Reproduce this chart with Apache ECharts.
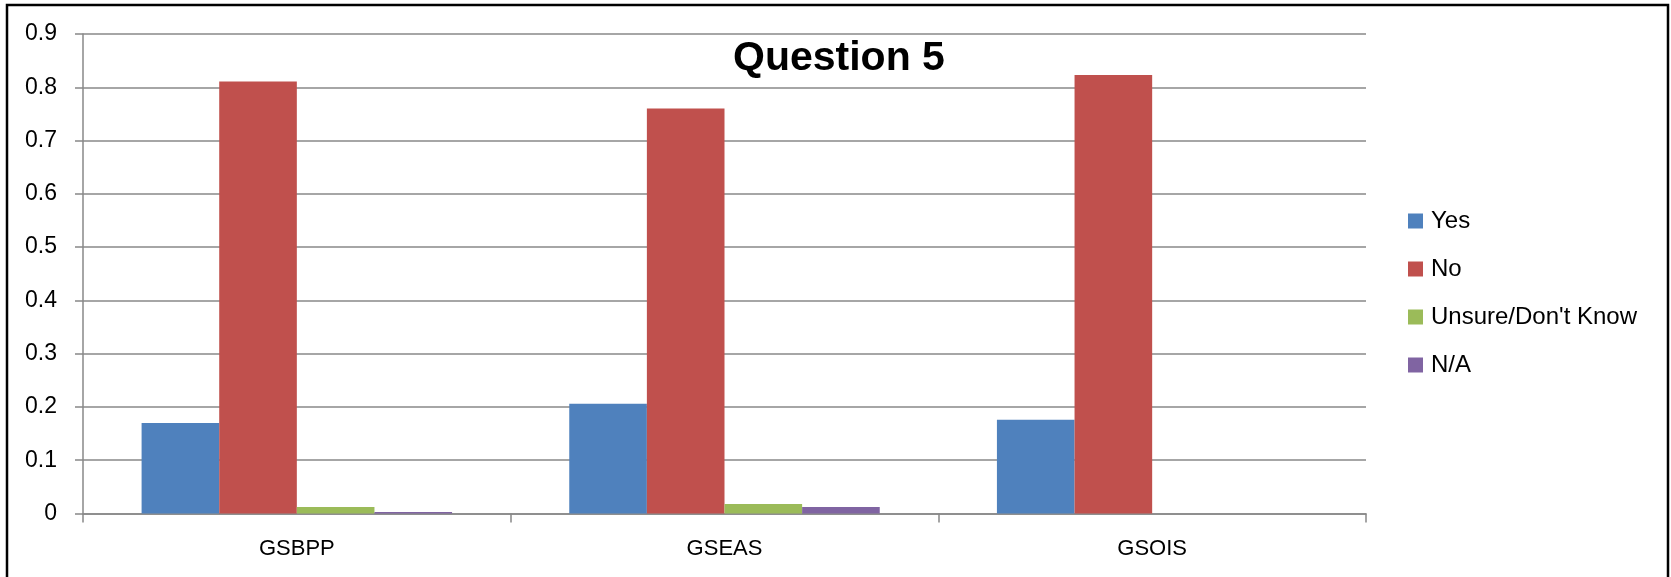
<!DOCTYPE html>
<html>
<head>
<meta charset="utf-8">
<script src="https://cdn.jsdelivr.net/npm/echarts@6/dist/echarts.min.js"></script>
<style>
html,body{margin:0;padding:0;background:#fff;}
#chart{width:1671px;height:577px;}
</style>
</head>
<body>
<div id="chart"></div>
<script>
const categories = ['GSBPP', 'GSEAS', 'GSOIS'];
const seriesNames = ['Yes', 'No', "Unsure/Don't Know", 'N/A'];
const yesValues = [0.17, 0.206, 0.176];
const noValues = [0.811, 0.76, 0.823];
const unsureValues = [0.012, 0.018, 0];
const naValues = [0.003, 0.012, 0];
const yTicks = [0, 0.1, 0.2, 0.3, 0.4, 0.5, 0.6, 0.7, 0.8, 0.9];

const colors = ['#4F81BD', '#C0504D', '#9BBB59', '#8064A2'];
const font = '"Liberation Sans", Arial, sans-serif';
const seriesData = [yesValues, noValues, unsureValues, naValues];

const chart = echarts.init(document.getElementById('chart'), null, {renderer: 'canvas'});
chart.setOption({
  animation: false,
  backgroundColor: '#fff',
  color: colors,
  title: {
    text: 'Question 5',
    left: 733,
    top: 38,
    padding: 0,
    textStyle: {fontFamily: font, fontSize: 41, fontWeight: 'bold', color: '#000'}
  },
  legend: {
    orient: 'vertical',
    left: 1408,
    top: 209,
    padding: 0,
    itemWidth: 15,
    itemHeight: 15,
    itemGap: 24,
    icon: 'rect',
    data: seriesNames,
    textStyle: {fontFamily: font, fontSize: 24, lineHeight: 24, color: '#000', padding: [0, 0, 0, 3]}
  },
  grid: {left: 83, right: 305, top: 34, bottom: 63.5, containLabel: false},
  xAxis: {
    type: 'category',
    data: categories,
    axisLine: {show: true, lineStyle: {color: '#888', width: 1.5}},
    axisTick: {show: true, length: 9, lineStyle: {color: '#888', width: 1.5}},
    axisLabel: {fontFamily: font, fontSize: 22, color: '#000', margin: 24}
  },
  yAxis: {
    type: 'value',
    min: 0,
    max: 0.9,
    interval: 0.1,
    axisLine: {show: true, lineStyle: {color: '#888', width: 1.5}},
    axisTick: {show: true, length: 8, lineStyle: {color: '#888', width: 1.5}},
    axisLabel: {
      fontFamily: font, fontSize: 23, color: '#000', margin: 26,
      formatter: function (v) {
        const idx = yTicks.findIndex(t => Math.abs(t - v) < 1e-9);
        return idx >= 0 ? String(yTicks[idx]) : '';
      }
    },
    splitLine: {show: true, lineStyle: {color: '#888', width: 1.5}}
  },
  series: seriesNames.map((name, i) => ({
    name: name,
    type: 'bar',
    data: seriesData[i],
    barGap: '0%',
    barCategoryGap: '27.4%',
    itemStyle: {color: colors[i]}
  })),
  graphic: [{
    type: 'rect',
    shape: {x: 7, y: 5, width: 1661, height: 620},
    style: {fill: 'none', stroke: '#000', lineWidth: 2.5},
    silent: true,
    z: 100
  }]
});
</script>
</body>
</html>
